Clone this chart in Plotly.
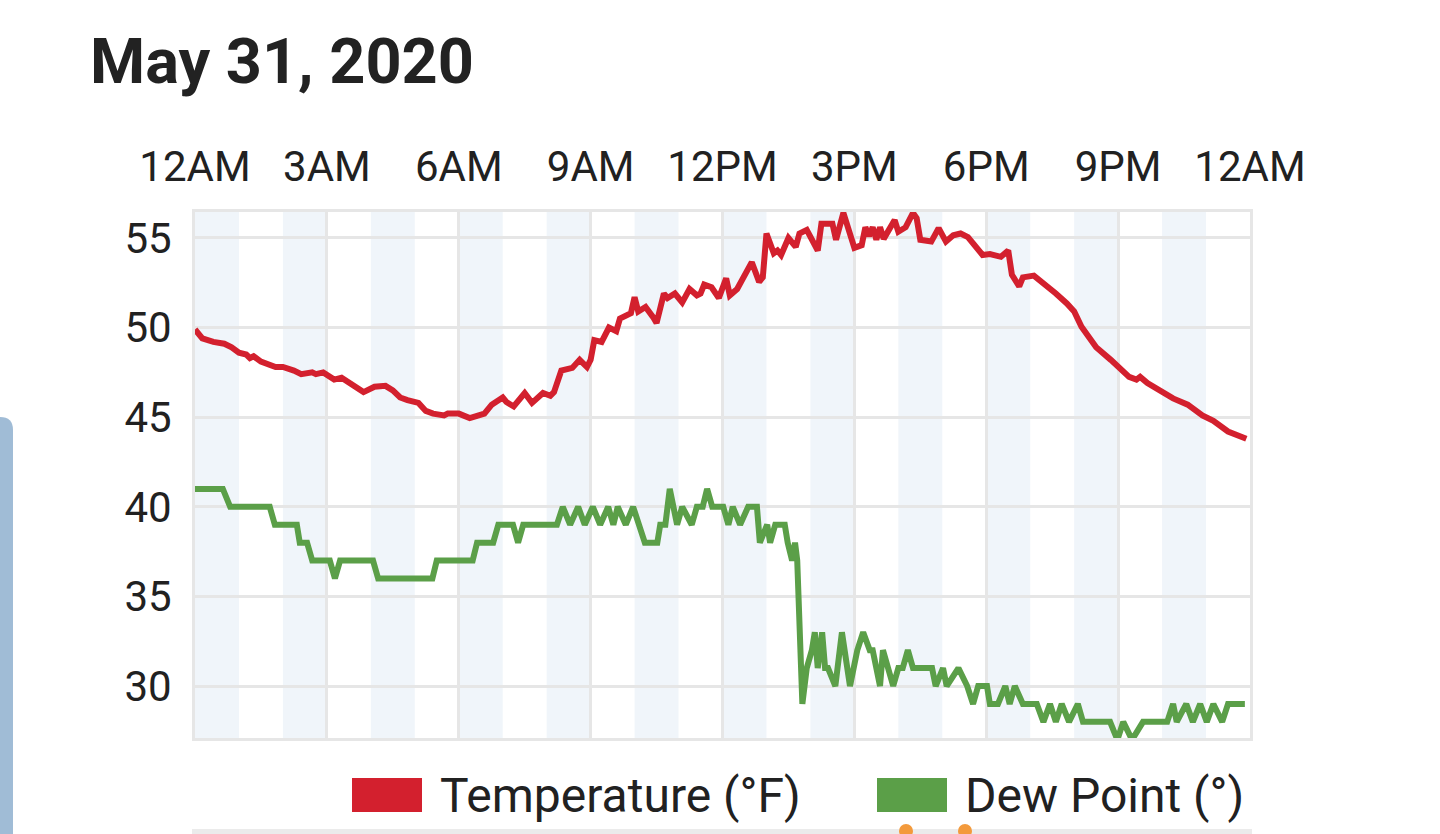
import pandas as pd
import plotly.graph_objects as go


# minutes after midnight, May 31 2020
temp_min = [0, 10, 25, 40, 50, 60, 70, 75, 80, 90,
            110, 120, 135, 145, 160, 165, 175, 190, 200, 210,
            230, 245, 260, 270, 280, 290, 305, 315, 325, 340,
            345, 360, 375, 395, 405, 420, 425, 435, 450, 460,
            475, 485, 490, 500, 515, 525, 535, 540, 545, 555,
            565, 575, 580, 595, 600, 605, 615, 625, 630, 640,
            645, 655, 665, 675, 685, 690, 695, 705, 715, 725,
            730, 740, 745, 760, 770, 775, 780, 790, 795, 800,
            810, 820, 825, 835, 850, 855, 870, 875, 885, 900,
            910, 915, 920, 925, 930, 935, 940, 955, 960, 970,
            980, 985, 990, 1005, 1015, 1025, 1035, 1045, 1055, 1060,
            1075, 1085, 1095, 1100, 1110, 1115, 1125, 1130, 1145, 1155,
            1165, 1175, 1190, 1200, 1210, 1220, 1230, 1250, 1260, 1275,
            1285, 1290, 1300, 1320, 1335, 1355, 1360, 1375, 1390, 1400,
            1410, 1435]
temp_f = [49.9, 49.4, 49.2, 49.1, 48.9, 48.6, 48.5, 48.3, 48.4, 48.1,
          47.8, 47.8, 47.6, 47.4, 47.5, 47.4, 47.5, 47.1, 47.2, 46.9,
          46.4, 46.7, 46.75, 46.5, 46.1, 45.95, 45.8, 45.35, 45.2, 45.1,
          45.2, 45.2, 44.95, 45.2, 45.7, 46.1, 45.85, 45.6, 46.35, 45.8,
          46.35, 46.2, 46.4, 47.6, 47.75, 48.2, 47.8, 48.2, 49.3, 49.2,
          50.0, 49.8, 50.5, 50.8, 51.7, 50.9, 51.15, 50.6, 50.25, 51.9,
          51.65, 51.9, 51.4, 52.15, 51.8, 51.9, 52.4, 52.25, 51.65, 52.75,
          51.8, 52.15, 52.5, 53.65, 52.55, 52.8, 55.25, 54.15, 54.3, 54.05,
          55.0, 54.5, 55.25, 55.45, 54.3, 55.8, 55.8, 54.9, 56.4, 54.45,
          54.6, 55.6, 55.1, 55.6, 54.9, 55.6, 54.95, 56.0, 55.35, 55.6,
          56.4, 56.1, 54.9, 54.8, 55.55, 54.8, 55.15, 55.25, 55.05, 54.8,
          54.05, 54.1, 54.05, 53.95, 54.3, 52.95, 52.3, 52.8, 52.9, 52.6,
          52.2, 51.9, 51.35, 50.9, 50.05, 49.5, 48.9, 48.2, 47.8, 47.25,
          47.1, 47.25, 46.9, 46.4, 46.05, 45.7, 45.55, 45.1, 44.8, 44.45,
          44.2, 43.8]

dew_min = [0, 38, 48, 102, 109, 139, 143, 153, 160, 184,
           191, 198, 243, 250, 324, 330, 379, 385, 407, 414,
           434, 441, 448, 494, 502, 512, 523, 532, 543, 553,
           564, 571, 577, 588, 598, 607, 614, 631, 635, 642,
           648, 658, 665, 678, 685, 693, 699, 706, 721, 728,
           734, 744, 755, 767, 771, 781, 785, 792, 805, 809,
           815, 819, 822, 829, 835, 842, 846, 850, 856, 860,
           864, 874, 883, 894, 904, 912, 921, 925, 935, 939,
           946, 953, 960, 966, 973, 980, 1006, 1011, 1021, 1026,
           1042, 1054, 1062, 1069, 1081, 1085, 1096, 1106, 1112, 1119,
           1130, 1149, 1158, 1167, 1175, 1183, 1193, 1205, 1212, 1249,
           1259, 1267, 1279, 1294, 1327, 1335, 1340, 1353, 1362, 1372,
           1381, 1390, 1402, 1410, 1433]
dew_f = [41, 41, 40, 40, 39, 39, 38, 38, 37, 37,
         36, 37, 37, 36, 36, 37, 37, 38, 38, 39,
         39, 38, 39, 39, 40, 39, 40, 39, 40, 39,
         40, 39, 40, 39, 40, 39, 38, 38, 39, 39,
         41, 39, 40, 39, 40, 40, 41, 40, 40, 39,
         40, 39, 40, 40, 38, 39, 38, 39, 39, 38,
         37, 38, 37, 29, 31, 32, 33, 31, 33, 31,
         31, 30, 33, 30, 32, 33, 32, 32, 30, 32,
         31, 30, 31, 31, 32, 31, 31, 30, 31, 30,
         31, 30, 29, 30, 30, 29, 29, 30, 29, 30,
         29, 29, 28, 29, 28, 29, 28, 29, 28, 28,
         27, 28, 27, 28, 28, 29, 28, 29, 28, 29,
         28, 29, 28, 29, 29]

tick_labels = ["12AM", "3AM", "6AM", "9AM", "12PM", "3PM", "6PM", "9PM", "12AM"]

day = pd.Timestamp("2020-05-31")
temp_t = day + pd.to_timedelta(temp_min, unit="min")
dew_t = day + pd.to_timedelta(dew_min, unit="min")
tick_vals = [day + pd.Timedelta(hours=3 * i) for i in range(len(tick_labels))]

RED = "#d3202e"
GREEN = "#5b9f48"
FONT = "Roboto"


# screen pixel -> paper helpers (plot area is 195..1250 x 212..738)
def px(x):
    return (x - 195) / 1055


def py(y):
    return (738 - y) / 526


shapes = []
# alternating hour bands
for h in range(0, 24, 2):
    shapes.append(dict(type="rect", xref="x", yref="paper",
                       x0=day + pd.Timedelta(hours=h), x1=day + pd.Timedelta(hours=h + 1),
                       y0=0, y1=1, fillcolor="#f0f5fa", line_width=0, layer="below"))

# legend swatches
shapes.append(dict(type="rect", xref="paper", yref="paper",
                   x0=px(352), x1=px(422), y0=py(812), y1=py(778),
                   fillcolor=RED, line_width=0))
shapes.append(dict(type="rect", xref="paper", yref="paper",
                   x0=px(877), x1=px(947), y0=py(812), y1=py(778),
                   fillcolor=GREEN, line_width=0))

# bits of the neighbouring page elements
shapes.append(dict(type="path", xref="paper", yref="paper",
                   path=f"M {px(-5)},{py(417)} L {px(0)},{py(417)} "
                        f"Q {px(13)},{py(417)} {px(13)},{py(430)} "
                        f"L {px(13)},{py(850)} L {px(-5)},{py(850)} Z",
                   fillcolor="#a0bcd6", line_width=0))
shapes.append(dict(type="rect", xref="paper", yref="paper",
                   x0=px(192), x1=px(1252), y0=py(840), y1=py(829),
                   fillcolor="#ebebeb", line_width=0))
for cx in (906, 965):
    shapes.append(dict(type="circle", xref="paper", yref="paper",
                       x0=px(cx - 7), x1=px(cx + 7), y0=py(838), y1=py(824),
                       fillcolor="#f39a3c", line_width=0))

annotations = [
    dict(text="<b>May 31, 2020</b>", xref="paper", yref="paper",
         x=px(88), y=py(62), xanchor="left", yanchor="middle", showarrow=False,
         font=dict(family=FONT, size=63, color="#222222")),
    dict(text="Temperature (°F)", xref="paper", yref="paper",
         x=px(438), y=py(795), xanchor="left", yanchor="middle", showarrow=False,
         font=dict(family=FONT, size=48, color="#212121")),
    dict(text="Dew Point (°)", xref="paper", yref="paper",
         x=px(963), y=py(795), xanchor="left", yanchor="middle", showarrow=False,
         font=dict(family=FONT, size=48, color="#212121")),
]

temp_trace = go.Scatter(x=temp_t, y=temp_f, mode="lines", name="Temperature (°F)",
                        line=dict(color=RED, width=6), showlegend=False)
dew_trace = go.Scatter(x=dew_t, y=dew_f, mode="lines", name="Dew Point (°)",
                       line=dict(color=GREEN, width=6), showlegend=False)

fig = go.Figure(
    data=[dew_trace, temp_trace],
    layout=go.Layout(
        width=1440, height=834,
        margin=dict(l=195, r=190, t=212, b=96),
        paper_bgcolor="white", plot_bgcolor="white",
        font=dict(family=FONT, color="#212121"),
        showlegend=False,
        shapes=shapes,
        annotations=annotations,
        xaxis=dict(side="top", range=[day, day + pd.Timedelta(hours=24)],
                   tickvals=tick_vals, ticktext=tick_labels,
                   tickfont=dict(size=42, color="#212121"),
                   ticks="", ticklabelstandoff=11,
                   showgrid=True, gridcolor="#e6e6e6", gridwidth=3,
                   showline=True, linecolor="#e6e6e6", linewidth=3, mirror=True,
                   zeroline=False),
        yaxis=dict(range=[27.1, 56.45], tickvals=[30, 35, 40, 45, 50, 55],
                   tickfont=dict(size=42, color="#212121"),
                   ticks="", ticklabelstandoff=12,
                   showgrid=True, gridcolor="#e6e6e6", gridwidth=3,
                   showline=True, linecolor="#e6e6e6", linewidth=3, mirror=True,
                   zeroline=False),
    ),
)

# drop the default body margin so the figure sits flush with the window
fig.write_html("out.html", config={"displayModeBar": False},
               post_script="document.body.style.margin = '0';")
